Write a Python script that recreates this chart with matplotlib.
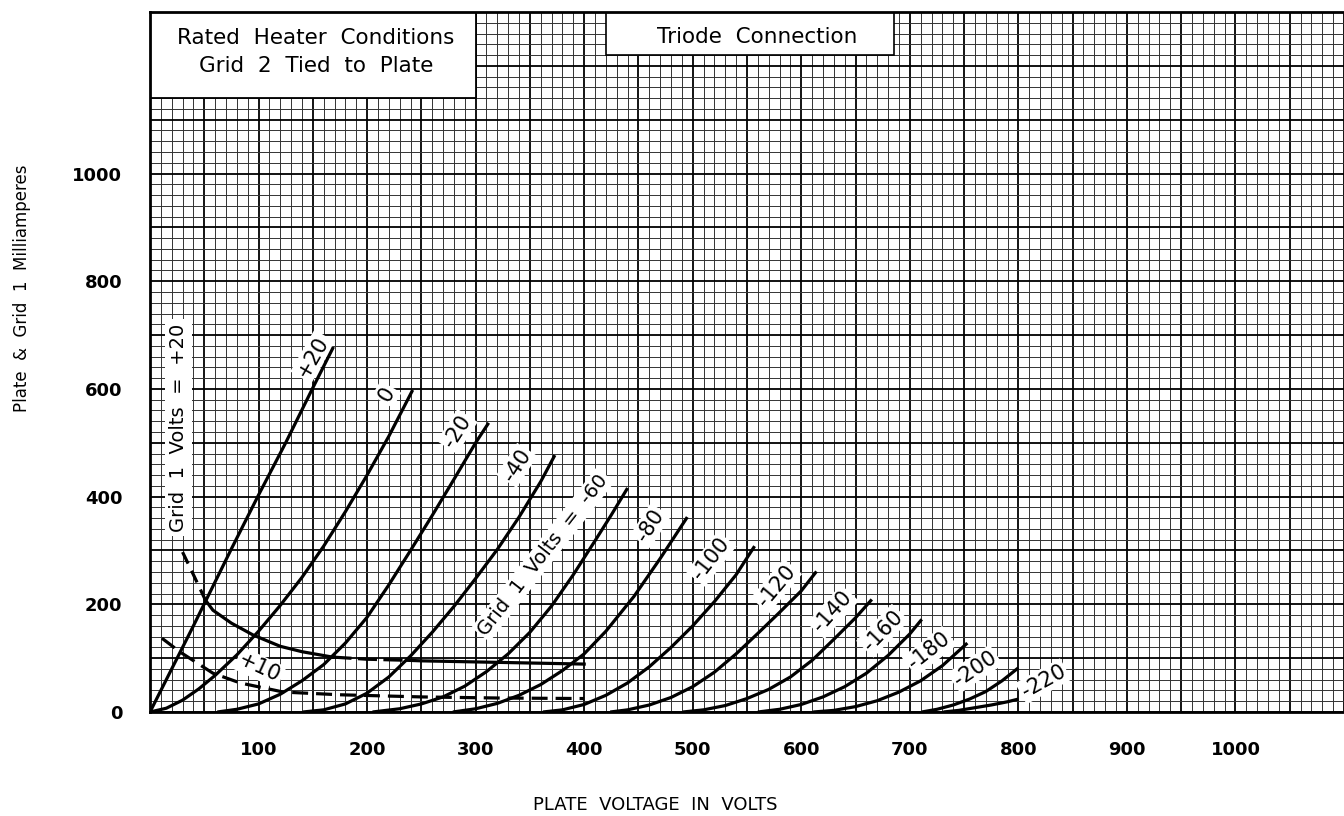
import numpy as np
import matplotlib
matplotlib.use('Agg')
import matplotlib.pyplot as plt
from matplotlib.patches import Rectangle

# ── DATA ─────────────────────────────────────────────────────────────────────
# plate current curves, one per grid-1 voltage: plate volts / milliamperes
V_P20 = [0, 10, 20, 28, 40, 51, 75, 100, 125, 150, 169]
I_P20 = [0, 40, 80, 112, 160, 205, 303, 403, 500, 602, 678]
V_0 = [0, 15, 30, 45, 60, 80, 100, 120, 140, 160, 180, 200, 220, 242]
I_0 = [0, 7, 22, 43, 68, 106, 150, 198, 250, 308, 372, 440, 512, 598]
V_M20 = [62, 80, 100, 120, 140, 160, 180, 200, 220, 240, 260, 280, 300, 312]
I_M20 = [0, 5, 15, 33, 58, 88, 128, 176, 236, 300, 365, 432, 500, 537]
V_M40 = [141, 160, 180, 200, 220, 240, 260, 280, 300, 320, 340, 360, 373]
I_M40 = [0, 4, 15, 35, 65, 104, 148, 196, 248, 302, 362, 428, 477]
V_M60 = [205, 230, 250, 270, 290, 310, 330, 350, 370, 390, 410, 425, 440]
I_M60 = [0, 6, 15, 28, 48, 75, 108, 148, 197, 255, 318, 366, 416]
V_M80 = [279, 300, 320, 340, 360, 380, 400, 420, 446, 470, 495]
I_M80 = [0, 6, 16, 31, 51, 77, 108, 150, 215, 285, 362]
V_M100 = [362, 380, 400, 420, 440, 460, 480, 500, 520, 540, 557]
I_M100 = [0, 4, 14, 31, 54, 84, 120, 160, 205, 255, 308]
V_M120 = [424, 440, 460, 480, 500, 520, 540, 560, 580, 600, 614]
I_M120 = [0, 4, 13, 27, 47, 74, 108, 146, 185, 225, 261]
V_M140 = [491, 510, 530, 550, 570, 590, 610, 630, 650, 665]
I_M140 = [0, 4, 12, 25, 42, 65, 96, 135, 175, 209]
V_M160 = [560, 580, 600, 620, 640, 660, 680, 700, 711]
I_M160 = [0, 5, 14, 28, 47, 72, 105, 145, 172]
V_M180 = [611, 630, 650, 670, 690, 710, 730, 753]
I_M180 = [0, 3, 10, 21, 37, 58, 86, 128]
V_M200 = [711, 725, 740, 755, 770, 785, 800]
I_M200 = [0, 5, 13, 24, 38, 58, 82]
V_M220 = [731, 745, 760, 775, 790, 800]
I_M220 = [0, 3, 8, 13, 19, 24]

CURVE_NAMES = ["+20", "0", "-20", "-40", "-60", "-80", "-100", "-120",
               "-140", "-160", "-180", "-200", "-220"]
CURVE_V = [V_P20, V_0, V_M20, V_M40, V_M60, V_M80, V_M100, V_M120,
           V_M140, V_M160, V_M180, V_M200, V_M220]
CURVE_I = [I_P20, I_0, I_M20, I_M40, I_M60, I_M80, I_M100, I_M120,
           I_M140, I_M160, I_M180, I_M200, I_M220]

# grid-1 current curves (grid at +20 and +10 volts)
V_G20 = [30, 40, 51, 58, 75, 95, 120, 140, 168, 200, 237, 250, 300, 350, 400]
I_G20 = [297, 255, 208, 189, 165, 143, 122, 112, 102, 98, 96, 95, 93, 91, 89]
V_G10 = [11, 28, 58, 83, 123, 175, 250, 320, 400]
I_G10 = [137, 111, 72, 54, 37, 32, 28, 26, 25]

X_TICKS = [100, 200, 300, 400, 500, 600, 700, 800, 900, 1000]
Y_TICKS = [0, 200, 400, 600, 800, 1000]

# ── LAYOUT ───────────────────────────────────────────────────────────────────
# label placement: (volts, mA, rotation)
LABEL_POS = {
    "+20": (150, 660, 60), "0": (218, 590, 60), "-20": (283, 521, 57),
    "-40": (338, 458, 57), "-80": (461, 346, 57), "-100": (517, 284, 52),
    "-120": (577, 234, 50), "-140": (629, 186, 48), "-160": (675, 151, 46),
    "-180": (718, 113, 38), "-200": (760, 80, 34), "-220": (823, 57, 29),
}
FONT = "DejaVu Sans"
LW = 2.3
WHITE = dict(fc="white", ec="none", pad=1.5)

fig = plt.figure(figsize=(13.44, 8.16), dpi=100)
ax = fig.add_axes([150 / 1344, 1 - 712 / 816, 1 - 150 / 1344, 700 / 816])
ax.set_xlim(0, 1100)
ax.set_ylim(0, 1300)

# graph-paper grid
for v in np.arange(0, 1101, 10):
    heavy = v % 50 == 0
    ax.axvline(v, color="black" if heavy else "#333333",
               lw=1.3 if heavy else 0.7, zorder=1)
for i in np.arange(0, 1301, 20):
    heavy = i % 100 == 0
    ax.axhline(i, color="black" if heavy else "#333333",
               lw=1.3 if heavy else 0.7, zorder=1)

# blank boxes for the notes
ax.add_patch(Rectangle((0, 1140), 300, 160, fc="white", ec="black", lw=1.3, zorder=2))
ax.add_patch(Rectangle((420, 1220), 265, 80, fc="white", ec="black", lw=1.2, zorder=2))
ax.text(153, 1226, "Rated  Heater  Conditions\nGrid  2  Tied  to  Plate",
        ha="center", va="center", fontsize=15.5, linespacing=1.5, family=FONT, zorder=3)
ax.text(559, 1253, "Triode  Connection", ha="center", va="center",
        fontsize=15.5, family=FONT, zorder=3)

# plate characteristic curves
for name, vv, ii in zip(CURVE_NAMES, CURVE_V, CURVE_I):
    ax.plot(vv, ii, color="black", lw=LW, solid_capstyle="butt", zorder=3)
    if name in LABEL_POS:
        x, y, rot = LABEL_POS[name]
        ax.text(x, y, name, rotation=rot, ha="center", va="center",
                fontsize=15, family=FONT, zorder=2.5, bbox=WHITE)

# grid current curves: mixed dashed / solid runs as drawn
ax.plot(V_G20[:3], I_G20[:3], color="black", lw=LW, ls=(0, (4, 2.5)), zorder=3)
ax.plot(V_G20[2:9], I_G20[2:9], color="black", lw=LW, zorder=3)
ax.plot(V_G20[8:11], I_G20[8:11], color="black", lw=LW, ls=(0, (6, 2)), zorder=3)
ax.plot(V_G20[10:], I_G20[10:], color="black", lw=LW, zorder=3)
ax.plot(V_G10, I_G10, color="black", lw=LW, ls=(0, (5, 2.5)), zorder=3)

ax.text(101, 82, "+10", rotation=-25, ha="center", va="center", fontsize=15,
        family=FONT, zorder=2.5, bbox=WHITE)
ax.text(26, 528, "Grid  1  Volts  =  +20", rotation=90, ha="center", va="center",
        fontsize=14, family=FONT, zorder=4, bbox=dict(fc="white", ec="none", pad=3))
ax.text(362, 292, "Grid  1  Volts  =  -60", rotation=52, ha="center", va="center",
        fontsize=14, family=FONT, zorder=2.5, bbox=WHITE)

# axes
ax.set_xticks(X_TICKS)
ax.set_yticks(Y_TICKS)
ax.tick_params(length=0, labelsize=13)
ax.tick_params(axis="x", pad=21)
ax.tick_params(axis="y", pad=20)
for lab in ax.get_xticklabels() + ax.get_yticklabels():
    lab.set_fontweight("bold")
    lab.set_family(FONT)
for s in ax.spines.values():
    s.set_linewidth(2)
ax.spines["right"].set_visible(False)

fig.text(655 / 1344, 1 - 805 / 816, "PLATE  VOLTAGE  IN  VOLTS", ha="center",
         va="center", fontsize=13, family=FONT)
fig.text(22 / 1344, 1 - 288 / 816, "Plate  &  Grid  1  Milliamperes", rotation=90,
         ha="center", va="center", fontsize=12, family=FONT)

fig.savefig("out.png", dpi=100)
